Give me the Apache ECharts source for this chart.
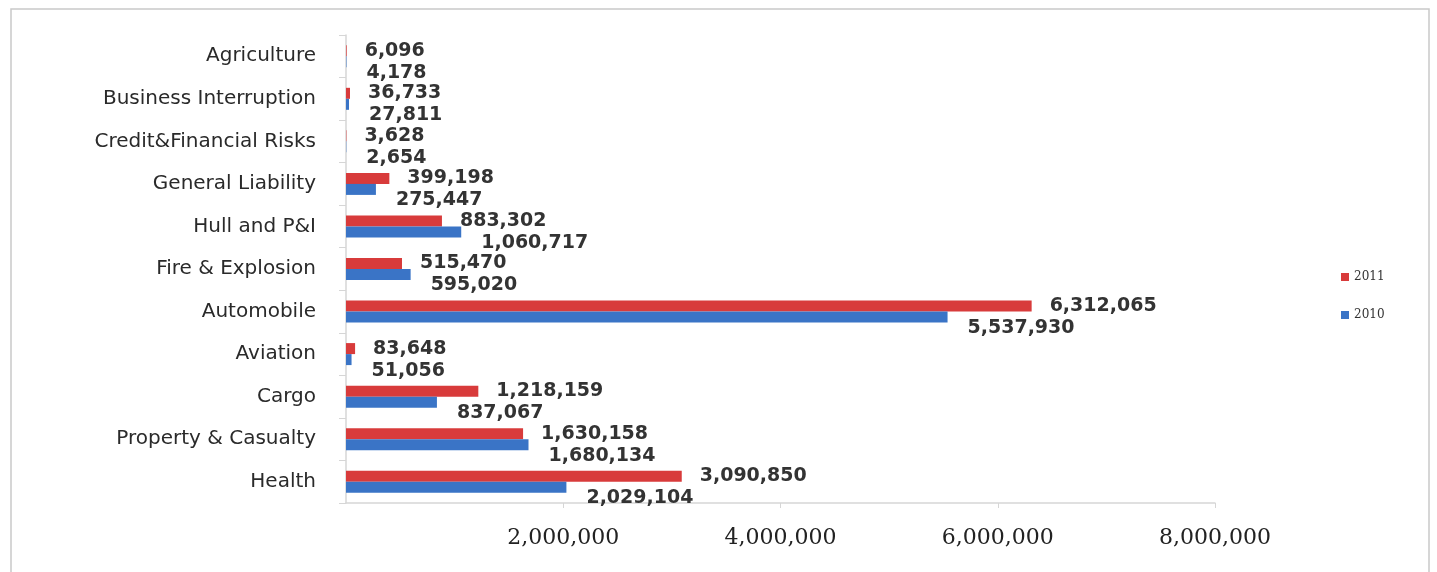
<!DOCTYPE html>
<html>
<head>
<meta charset="utf-8">
<script src="https://cdn.jsdelivr.net/npm/echarts@6/dist/echarts.min.js"></script>
<style>
  html, body { margin: 0; padding: 0; background: #fff; }
  #chart { width: 1437px; height: 572px; }
</style>
</head>
<body>
<div id="chart"></div>
<script>
var categories = [
  "Agriculture",
  "Business Interruption",
  "Credit&Financial Risks",
  "General Liability",
  "Hull and P&I",
  "Fire & Explosion",
  "Automobile",
  "Aviation",
  "Cargo",
  "Property & Casualty",
  "Health"
];
var values2011 = [6096, 36733, 3628, 399198, 883302, 515470, 6312065, 83648, 1218159, 1630158, 3090850];
var values2010 = [4178, 27811, 2654, 275447, 1060717, 595020, 5537930, 51056, 837067, 1680134, 2029104];
var seriesNames = ["2011", "2010"];
var xTicks = [0, 2000000, 4000000, 6000000, 8000000];

var red = "#d83b3b";
var blue = "#3a74c6";
var axisGray = "#d6d6d6";

function fmt(v) {
  return Number(v).toLocaleString("en-US");
}

var chart = echarts.init(document.getElementById("chart"));

var option = {
  animation: false,
  backgroundColor: "#fff",
  graphic: [
    {
      type: "rect",
      shape: { x: 11, y: 9, width: 1418, height: 620 },
      style: { fill: "none", stroke: "#c9c9c9", lineWidth: 1.5 },
      silent: true
    }
  ],
  legend: {
    data: seriesNames,
    orient: "vertical",
    left: 1336,
    top: 266,
    itemWidth: 8,
    itemHeight: 8,
    itemGap: 26,
    icon: "rect",
    textStyle: { fontFamily: "DejaVu Serif", fontSize: 12, color: "#333" }
  },
  grid: {
    left: 346,
    right: 222,
    top: 35,
    bottom: 69
  },
  xAxis: {
    type: "value",
    min: xTicks[0],
    max: xTicks[xTicks.length - 1],
    interval: 2000000,
    splitLine: { show: false },
    axisLine: { show: true, lineStyle: { color: axisGray, width: 1.5 } },
    axisTick: { show: true, length: 5, lineStyle: { color: axisGray } },
    axisLabel: {
      showMinLabel: false,
      margin: 24,
      color: "#222",
      fontFamily: "DejaVu Serif",
      fontSize: 22,
      formatter: function (v) { return fmt(v); }
    }
  },
  yAxis: {
    type: "category",
    inverse: true,
    data: categories,
    axisLine: { show: true, lineStyle: { color: axisGray, width: 1.5 } },
    axisTick: { show: true, length: 7, lineStyle: { color: axisGray } },
    axisLabel: {
      margin: 30,
      color: "#2a2a2a",
      fontFamily: "DejaVu Sans",
      fontSize: 20
    }
  },
  series: [
    {
      name: seriesNames[0],
      type: "bar",
      data: values2011,
      barWidth: 11,
      barGap: "0%",
      itemStyle: { color: red },
      label: {
        show: true,
        position: "right",
        distance: 18,
        color: "#333",
        fontFamily: "DejaVu Sans",
        fontWeight: "bold",
        fontSize: 19,
        formatter: function (p) { return fmt(p.value); }
      }
    },
    {
      name: seriesNames[1],
      type: "bar",
      data: values2010,
      barWidth: 11,
      barGap: "0%",
      itemStyle: { color: blue },
      label: {
        show: true,
        position: "right",
        distance: 20,
        offset: [0, 11],
        color: "#333",
        fontFamily: "DejaVu Sans",
        fontWeight: "bold",
        fontSize: 19,
        formatter: function (p) { return fmt(p.value); }
      }
    }
  ]
};

chart.setOption(option);
</script>
</body>
</html>
